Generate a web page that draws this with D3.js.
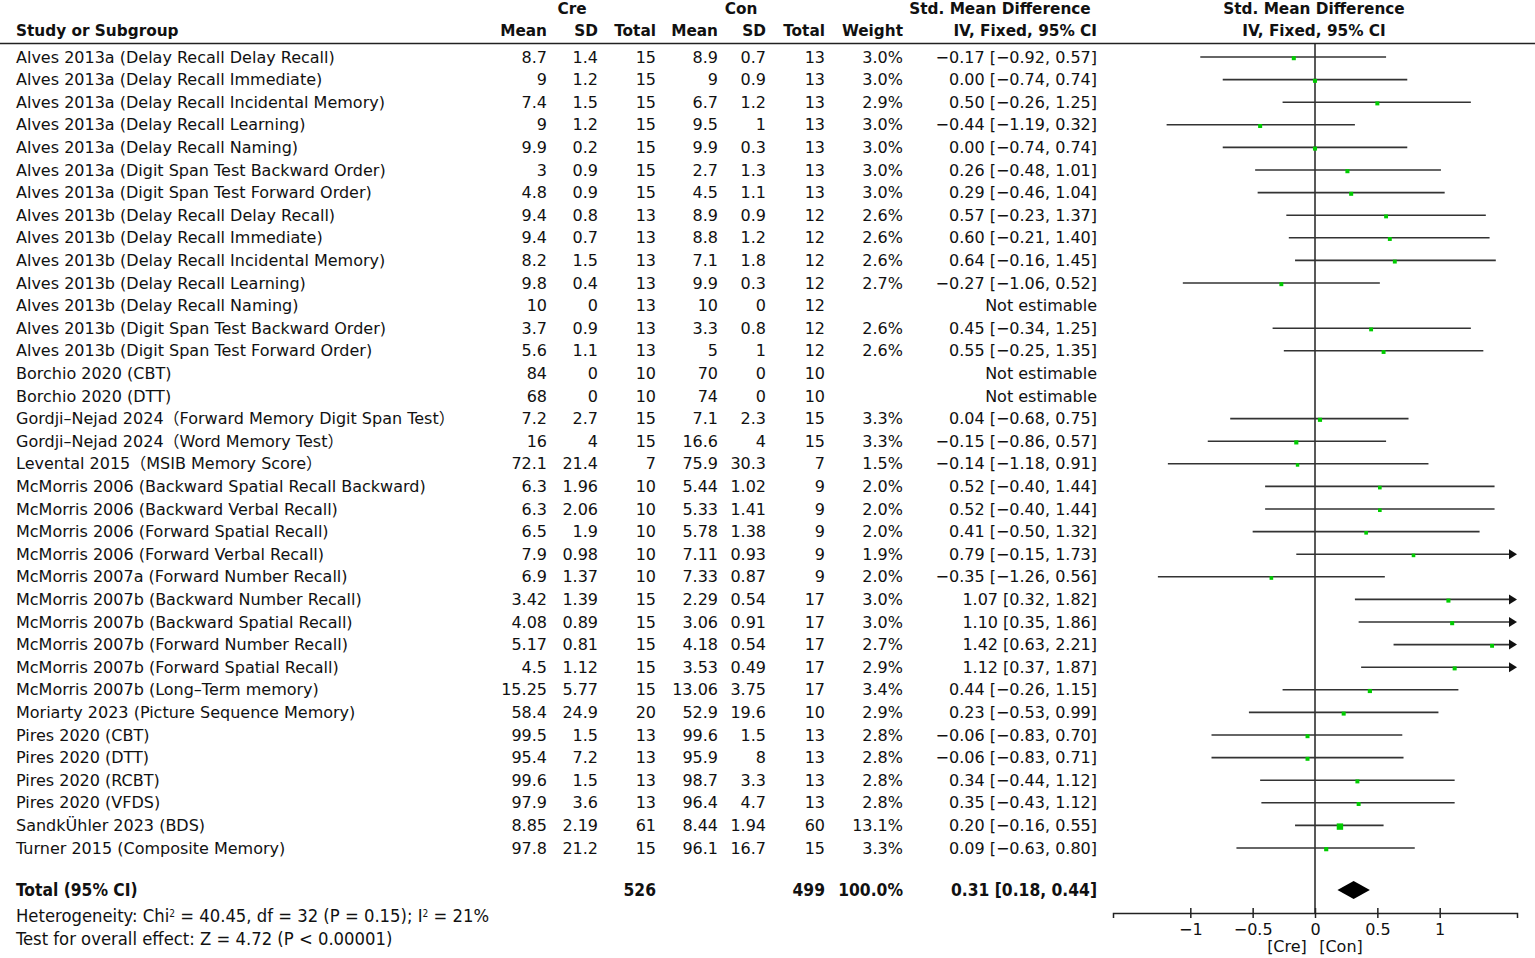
<!DOCTYPE html>
<html><head><meta charset="utf-8">
<script src="https://cdn.jsdelivr.net/npm/d3@7"></script>
<style>
html,body{margin:0;padding:0;background:#fff;}
svg text{font-family:"DejaVu Sans","Noto Sans CJK SC",sans-serif;fill:#111;}
.cond{font-family:"Liberation Sans Narrow","DejaVu Sans Condensed","Roboto Condensed","Liberation Sans",sans-serif;font-stretch:condensed;}
</style></head>
<body>
<svg id="c" width="1535" height="958"></svg>
<script>
const studies = [
"Alves 2013a (Delay Recall Delay Recall)","Alves 2013a (Delay Recall Immediate)","Alves 2013a (Delay Recall Incidental Memory)",
"Alves 2013a (Delay Recall Learning)","Alves 2013a (Delay Recall Naming)","Alves 2013a (Digit Span Test Backward Order)",
"Alves 2013a (Digit Span Test Forward Order)","Alves 2013b (Delay Recall Delay Recall)","Alves 2013b (Delay Recall Immediate)",
"Alves 2013b (Delay Recall Incidental Memory)","Alves 2013b (Delay Recall Learning)","Alves 2013b (Delay Recall Naming)",
"Alves 2013b (Digit Span Test Backward Order)","Alves 2013b (Digit Span Test Forward Order)","Borchio 2020 (CBT)","Borchio 2020 (DTT)",
"Gordji\u2013Nejad 2024\uFF08Forward Memory Digit Span Test\uFF09","Gordji\u2013Nejad 2024\uFF08Word Memory Test\uFF09","Levental 2015\uFF08MSIB Memory Score\uFF09",
"McMorris 2006 (Backward Spatial Recall Backward)","McMorris 2006 (Backward Verbal Recall)","McMorris 2006 (Forward Spatial Recall)",
"McMorris 2006 (Forward Verbal Recall)","McMorris 2007a (Forward Number Recall)","McMorris 2007b (Backward Number Recall)",
"McMorris 2007b (Backward Spatial Recall)","McMorris 2007b (Forward Number Recall)","McMorris 2007b (Forward Spatial Recall)",
"McMorris 2007b (Long\u2013Term memory)","Moriarty 2023 (Picture Sequence Memory)","Pires 2020 (CBT)","Pires 2020 (DTT)",
"Pires 2020 (RCBT)","Pires 2020 (VFDS)","SandkÜhler 2023 (BDS)","Turner 2015 (Composite Memory)"];
const creMean = [8.7,9,7.4,9,9.9,3,4.8,9.4,9.4,8.2,9.8,10,3.7,5.6,84,68,7.2,16,72.1,6.3,6.3,6.5,7.9,6.9,3.42,4.08,5.17,4.5,15.25,58.4,99.5,95.4,99.6,97.9,8.85,97.8];
const creSD   = [1.4,1.2,1.5,1.2,0.2,0.9,0.9,0.8,0.7,1.5,0.4,0,0.9,1.1,0,0,2.7,4,21.4,1.96,2.06,1.9,0.98,1.37,1.39,0.89,0.81,1.12,5.77,24.9,1.5,7.2,1.5,3.6,2.19,21.2];
const creN    = [15,15,15,15,15,15,15,13,13,13,13,13,13,13,10,10,15,15,7,10,10,10,10,10,15,15,15,15,15,20,13,13,13,13,61,15];
const conMean = [8.9,9,6.7,9.5,9.9,2.7,4.5,8.9,8.8,7.1,9.9,10,3.3,5,70,74,7.1,16.6,75.9,5.44,5.33,5.78,7.11,7.33,2.29,3.06,4.18,3.53,13.06,52.9,99.6,95.9,98.7,96.4,8.44,96.1];
const conSD   = [0.7,0.9,1.2,1,0.3,1.3,1.1,0.9,1.2,1.8,0.3,0,0.8,1,0,0,2.3,4,30.3,1.02,1.41,1.38,0.93,0.87,0.54,0.91,0.54,0.49,3.75,19.6,1.5,8,3.3,4.7,1.94,16.7];
const conN    = [13,13,13,13,13,13,13,12,12,12,12,12,12,12,10,10,15,15,7,9,9,9,9,9,17,17,17,17,17,10,13,13,13,13,60,15];
const weight  = [3.0,3.0,2.9,3.0,3.0,3.0,3.0,2.6,2.6,2.6,2.7,null,2.6,2.6,null,null,3.3,3.3,1.5,2.0,2.0,2.0,1.9,2.0,3.0,3.0,2.7,2.9,3.4,2.9,2.8,2.8,2.8,2.8,13.1,3.3];
const smd     = [-0.17,0.00,0.50,-0.44,0.00,0.26,0.29,0.57,0.60,0.64,-0.27,null,0.45,0.55,null,null,0.04,-0.15,-0.14,0.52,0.52,0.41,0.79,-0.35,1.07,1.10,1.42,1.12,0.44,0.23,-0.06,-0.06,0.34,0.35,0.20,0.09];
const ciLow   = [-0.92,-0.74,-0.26,-1.19,-0.74,-0.48,-0.46,-0.23,-0.21,-0.16,-1.06,null,-0.34,-0.25,null,null,-0.68,-0.86,-1.18,-0.40,-0.40,-0.50,-0.15,-1.26,0.32,0.35,0.63,0.37,-0.26,-0.53,-0.83,-0.83,-0.44,-0.43,-0.16,-0.63];
const ciHigh  = [0.57,0.74,1.25,0.32,0.74,1.01,1.04,1.37,1.40,1.45,0.52,null,1.25,1.35,null,null,0.75,0.57,0.91,1.44,1.44,1.32,1.73,0.56,1.82,1.86,2.21,1.87,1.15,0.99,0.70,0.71,1.12,1.12,0.55,0.80];
const total = {creN:526, conN:499, weight:100.0, smd:0.31, lo:0.18, hi:0.44};
const axisTicks = [-1,-0.5,0,0.5,1];
const heterogeneity = {chi2:"40.45", df:32, p:"0.15", i2:"21%"};
const overall = {z:"4.72", p:"< 0.00001"};

const svg = d3.select("#c");
const FS = 16;
const HFS = 15.3;
const rows = d3.range(studies.length);
const y = d3.scalePoint().domain(rows).range([57, 848]);
const x = d3.scaleLinear().domain([-1.62, 1.62]).range([1113, 1517]);
const sq = d3.scaleSqrt().domain([1.5, 13.1]).range([3.4, 6.4]);
const f2 = d3.format(".2f"), fw = d3.format(".1f");

// header
const hdr = svg.append("g").attr("font-weight","bold").attr("font-size",HFS);
hdr.append("text").attr("x",16).attr("y",31).attr("dy","0.35em").text("Study or Subgroup");
hdr.append("text").attr("x",572).attr("y",9).attr("dy","0.35em").attr("text-anchor","middle").text("Cre");
hdr.append("text").attr("x",741).attr("y",9).attr("dy","0.35em").attr("text-anchor","middle").text("Con");
hdr.append("text").attr("x",1000).attr("y",9).attr("dy","0.35em").attr("text-anchor","middle").text("Std. Mean Difference");
hdr.append("text").attr("x",1314).attr("y",9).attr("dy","0.35em").attr("text-anchor","middle").text("Std. Mean Difference");
hdr.append("text").attr("x",1314).attr("y",31).attr("dy","0.35em").attr("text-anchor","middle").text("IV, Fixed, 95% CI");
const colX = [547,598,656,718,766,825,903,1097];
const colH = ["Mean","SD","Total","Mean","SD","Total","Weight","IV, Fixed, 95% CI"];
colH.forEach((h,i)=>hdr.append("text").attr("x",colX[i]).attr("y",31).attr("dy","0.35em").attr("text-anchor","end").text(h));
svg.append("line").attr("x1",0).attr("x2",1535).attr("y1",43.5).attr("y2",43.5).attr("stroke","#222").attr("stroke-width",1.5);

// rows
const body = svg.append("g").attr("font-size",FS);
rows.forEach(i=>{
  const yy = y(i);
  body.append("text").attr("x",16).attr("y",yy).attr("dy","0.35em").text(studies[i]);
  const vals = [creMean[i],creSD[i],creN[i],conMean[i],conSD[i],conN[i],
    weight[i]==null?"":fw(weight[i])+"%",
    smd[i]==null?"Not estimable":`${f2(smd[i])} [${f2(ciLow[i])}, ${f2(ciHigh[i])}]`];
  vals.forEach((v,j)=>body.append("text").attr("x",colX[j]).attr("y",yy).attr("dy","0.35em").attr("text-anchor","end").text(String(v)));
});

// forest
const fp = svg.append("g");
fp.append("line").attr("x1",x(0)).attr("x2",x(0)).attr("y1",43).attr("y2",913).attr("stroke","#222").attr("stroke-width",1.5);
rows.forEach(i=>{
  if (smd[i]==null) return;
  const yy = y(i);
  const [d0,d1] = x.domain();
  const lo = Math.max(ciLow[i], d0), hi = Math.min(ciHigh[i], d1);
  const arrowR = ciHigh[i] > d1;
  fp.append("line").attr("x1",x(lo)).attr("x2",arrowR? x(hi)-6 : x(hi)).attr("y1",yy).attr("y2",yy).attr("stroke","#333").attr("stroke-width",1.6);
  if (arrowR) {
    const xe = x(hi);
    fp.append("path").attr("d",`M${xe},${yy} L${xe-8},${yy-5} L${xe-8},${yy+5} Z`).attr("fill","#111");
  }
  const s = sq(weight[i]);
  fp.append("rect").attr("x",x(smd[i])-s/2).attr("y",yy+1.2-s/2).attr("width",s).attr("height",s).attr("fill","#00cc00");
});
// total diamond
const ty = 890;
fp.append("path").attr("d",`M${x(total.lo)},${ty} L${x(total.smd)},${ty-9} L${x(total.hi)},${ty} L${x(total.smd)},${ty+9} Z`).attr("fill","#000");

// axis
const ax = svg.append("g").attr("transform","translate(0,913)")
  .call(d3.axisBottom(x).tickValues(axisTicks).tickFormat(d3.format("~g")).tickSizeOuter(0).tickSize(5).tickPadding(6));
ax.select(".domain").attr("stroke","#222").attr("stroke-width",1.5);
ax.selectAll(".tick line").attr("y1",-5).attr("y2",5).attr("stroke","#222").attr("stroke-width",1.5);
ax.selectAll(".tick text").attr("font-size",FS).attr("fill","#111").attr("font-family","DejaVu Sans, sans-serif");
svg.append("text").attr("x",1287).attr("y",946).attr("dy","0.35em").attr("text-anchor","middle").attr("font-size",FS).text("[Cre]");
svg.append("text").attr("x",1341).attr("y",946).attr("dy","0.35em").attr("text-anchor","middle").attr("font-size",FS).text("[Con]");

// total row
const tr = svg.append("g").attr("class","cond").attr("font-size",17.3).attr("font-weight","bold");
tr.append("text").attr("x",16).attr("y",ty).attr("dy","0.35em").text("Total (95% CI)");
tr.append("text").attr("x",colX[2]).attr("y",ty).attr("dy","0.35em").attr("text-anchor","end").text(total.creN);
tr.append("text").attr("x",colX[5]).attr("y",ty).attr("dy","0.35em").attr("text-anchor","end").text(total.conN);
tr.append("text").attr("x",colX[6]).attr("y",ty).attr("dy","0.35em").attr("text-anchor","end").text(fw(total.weight)+"%");
tr.append("text").attr("x",colX[7]).attr("y",ty).attr("dy","0.35em").attr("text-anchor","end").text(`${f2(total.smd)} [${f2(total.lo)}, ${f2(total.hi)}]`);

const LFS = 18.3;
const het = svg.append("text").attr("class","cond").attr("x",16).attr("y",916).attr("dy","0.35em").attr("font-size",LFS);
het.append("tspan").text("Heterogeneity: Chi");
het.append("tspan").attr("baseline-shift","super").attr("font-size",LFS*0.55).text("2");
het.append("tspan").text(` = ${heterogeneity.chi2}, df = ${heterogeneity.df} (P = ${heterogeneity.p}); I`);
het.append("tspan").attr("baseline-shift","super").attr("font-size",LFS*0.55).text("2");
het.append("tspan").text(` = ${heterogeneity.i2}`);
svg.append("text").attr("class","cond").attr("x",16).attr("y",939).attr("dy","0.35em").attr("font-size",LFS)
  .text(`Test for overall effect: Z = ${overall.z} (P ${overall.p})`);
</script>
</body></html>
